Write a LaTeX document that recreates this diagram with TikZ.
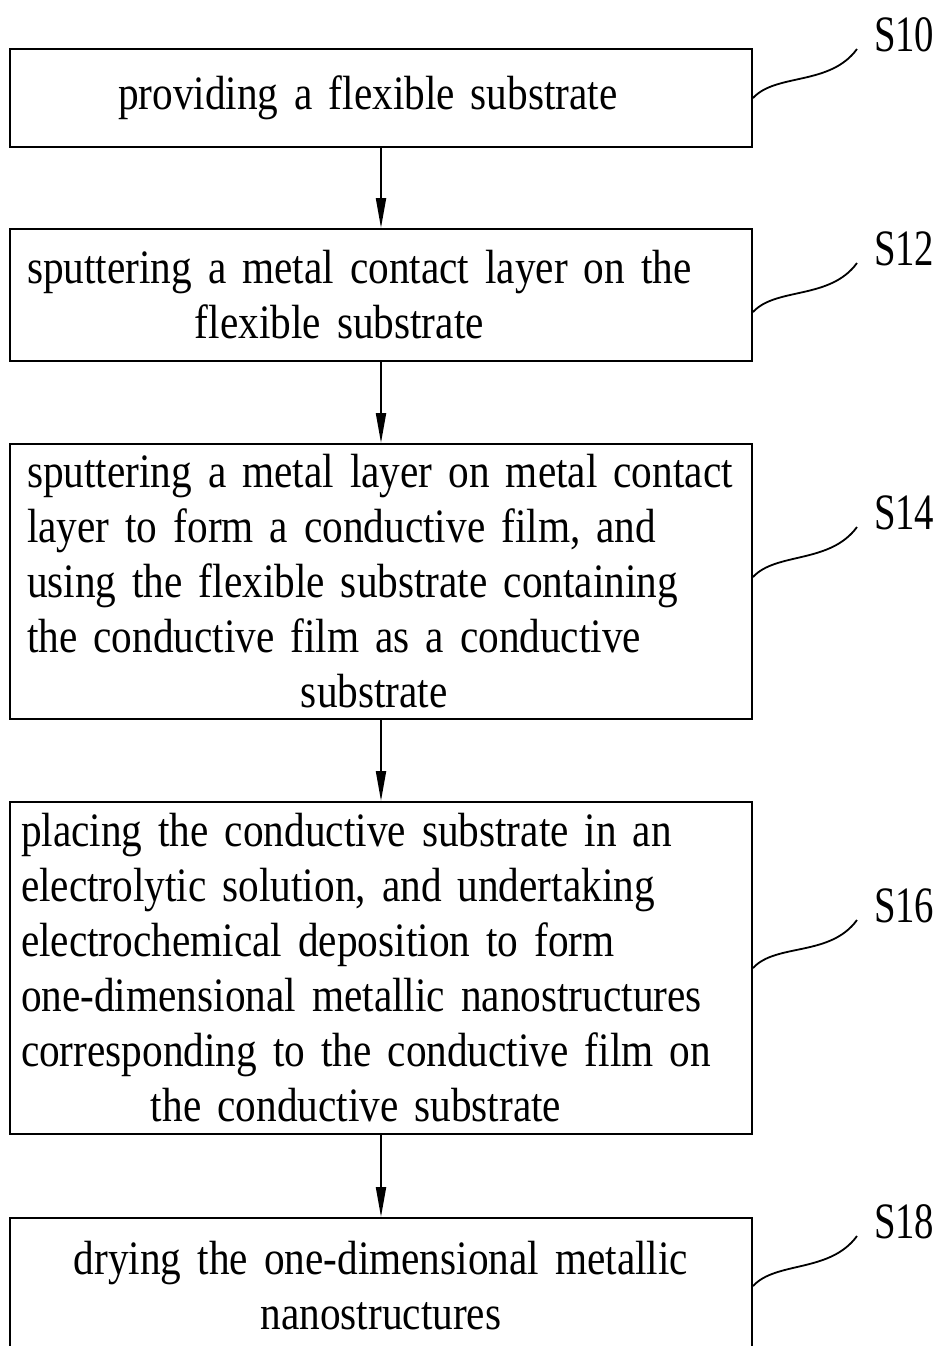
\documentclass[tikz,border=0pt]{standalone}
\usepackage{fontspec}
\setmainfont{Liberation Serif}[FakeStretch=0.86]
\newfontfamily\labelfont{Liberation Serif}[FakeStretch=0.76]
\usetikzlibrary{arrows.meta,calc}
\hyphenpenalty=10000

\begin{document}
\begin{tikzpicture}[x=0.5pt,y=-0.5pt,>={Triangle[length=15pt,width=5pt]},line width=1pt,
    stepbox/.style={draw,align=left,text width=360pt,inner xsep=5.5pt,minimum width=371pt,
      font=\fontsize{24pt}{27.5pt}\selectfont},
    steplabel/.style={anchor=base west,inner sep=0pt,font=\labelfont\fontsize{25.5pt}{27pt}\selectfont},
    leader/.style={line width=0.9pt}]
    \useasboundingbox (0,0) rectangle (941,1346);
    \node[stepbox,minimum height=49pt] (s10) at (381,98) {\hspace*{48.5pt}providing a flexible substrate};
    \node[stepbox,minimum height=66pt] (s12) at (381,295) {\hspace*{3pt}sputtering a metal contact layer on the\\
      \hspace*{87pt}flexible substrate};
    \node[stepbox,minimum height=137.5pt] (s14) at (381,581.5) {\hspace*{3pt}sputtering a metal layer on metal contact\\
      \hspace*{3pt}layer to form a conductive film, and\\
      \hspace*{3pt}using the flexible substrate containing\\
      \hspace*{3pt}the conductive film as a conductive\\
      \hspace*{140pt}substrate};
    \node[stepbox,minimum height=166pt] (s16) at (381,968) {placing the conductive substrate in an\\
      electrolytic solution, and undertaking\\
      electrochemical deposition to form\\
      one-dimensional metallic nanostructures\\
      corresponding to the conductive film on\\
      \hspace*{65pt}the conductive substrate};
    \node[stepbox,align=center,minimum height=68pt,anchor=north] (s18) at (381,1217) {drying the one-dimensional metallic\\
      nanostructures};
    \draw[->] (s10) -- (s12);
    \draw[->] (s12) -- (s14);
    \draw[->] (s14) -- (s16);
    \draw[->] (s16) -- (s18);
    % step numbers
    \coordinate (e10) at ($(s10.east)+(104,-49)$);
    \draw[leader] (s10.east) .. controls +(23,-25) and +(-27,37) .. (e10);
    \node[steplabel] (l10) at ($(e10)+(16,2)$) {S10};
    \coordinate (e12) at ($(s12.east)+(0,17)+(104,-49)$);
    \draw[leader] ($(s12.east)+(0,17)$) .. controls +(23,-25) and +(-27,37) .. (e12);
    \node[steplabel] (l12) at ($(e12)+(16,2)$) {S12};
    \coordinate (e14) at ($(s14.east)+(0,-4.5)+(104,-50)$);
    \draw[leader] ($(s14.east)+(0,-4.5)$) .. controls +(23,-25) and +(-27,37) .. (e14);
    \node[steplabel] (l14) at ($(e14)+(16,2)$) {S14};
    \coordinate (e16) at ($(s16.east)+(104,-48)$);
    \draw[leader] (s16.east) .. controls +(23,-25) and +(-27,37) .. (e16);
    \node[steplabel] (l16) at ($(e16)+(16,2)$) {S16};
    \coordinate (e18) at ($(s18.east)+(104,-50)$);
    \draw[leader] (s18.east) .. controls +(23,-25) and +(-27,37) .. (e18);
    \node[steplabel] (l18) at ($(e18)+(16,2)$) {S18};
\end{tikzpicture}
\end{document}
